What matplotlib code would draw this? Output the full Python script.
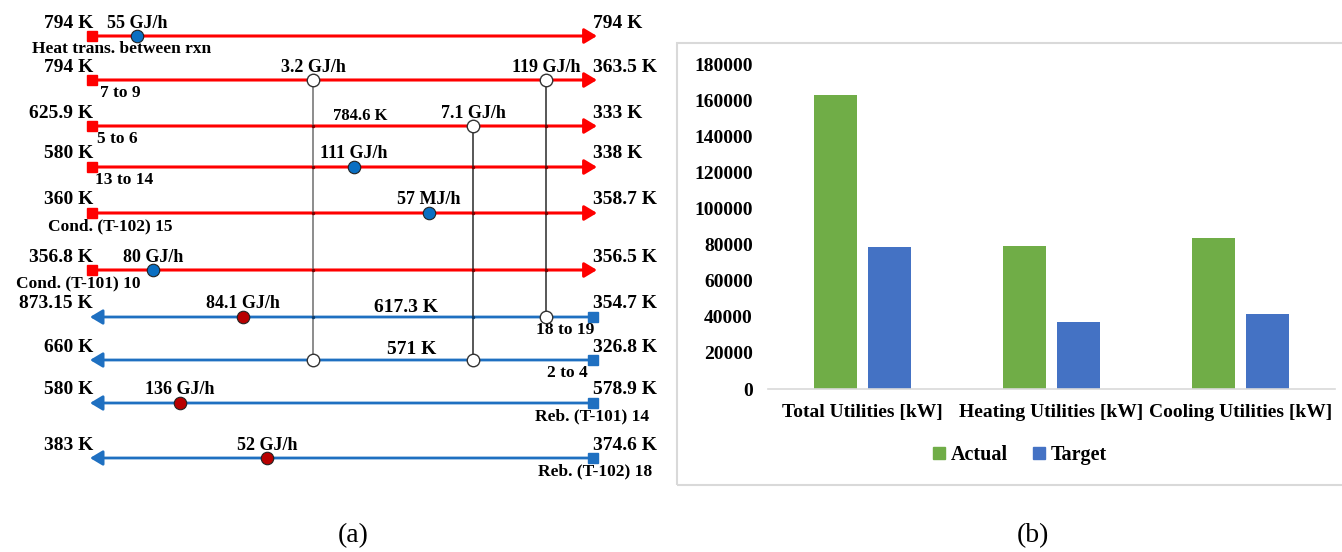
import matplotlib
matplotlib.use("Agg")
import matplotlib.pyplot as plt
from matplotlib.patches import Rectangle, Patch

plt.rcParams['font.family'] = 'Liberation Serif'
plt.rcParams['font.weight'] = 'bold'

# ---- heat exchanger network: stream data (6 hot, 4 cold)
stream_kind = ["hot"] * 6 + ["cold"] * 4
left_temps = ["794 K", "794 K", "625.9 K", "580 K", "360 K", "356.8 K",
              "873.15 K", "660 K", "580 K", "383 K"]
right_temps = ["794 K", "363.5 K", "333 K", "338 K", "358.7 K", "356.5 K",
               "354.7 K", "326.8 K", "578.9 K", "374.6 K"]
stream_names = ["Heat trans. between rxn", "7 to 9", "5 to 6", "13 to 14",
                "Cond. (T-102) 15", "Cond. (T-101) 10", "18 to 19", "2 to 4",
                "Reb. (T-101) 14", "Reb. (T-102) 18"]

# process-process exchangers (hot stream, cold stream, duty)
match_hot = [1, 2, 1]
match_cold = [7, 7, 6]
match_duty = ["3.2 GJ/h", "7.1 GJ/h", "119 GJ/h"]

# utility exchangers: coolers on hot streams, heaters on cold streams
util_stream = [0, 3, 4, 5, 6, 8, 9]
util_duty = ["55 GJ/h", "111 GJ/h", "57 MJ/h", "80 GJ/h", "84.1 GJ/h",
             "136 GJ/h", "52 GJ/h"]

# intermediate temperatures
mid_stream = [2, 6, 7]
mid_temps = ["784.6 K", "617.3 K", "571 K"]

# ---- utility comparison (kW)
categories = ["Total Utilities [kW]", "Heating Utilities [kW]", "Cooling Utilities [kW]"]
actual = [162600, 79100, 83500]
target = [78600, 37100, 41500]

# ---- layout of the grid diagram (pixel units)
row_y = [36, 80, 126, 167, 213, 270, 317, 360, 403, 458]
hot_x0, hot_x1 = 92, 597
cold_x0, cold_x1 = 90, 593
match_x = [313, 473, 546]
match_col = ['#6e6e6e', '#2a2a2a', '#2a2a2a']
util_x = [137, 354, 429, 153, 243, 180, 267]
mid_x = [360, 406, 412]
mid_size = [12, 14, 14]
name_pos = [(122, 'center'), (100, 'left'), (97, 'left'), (95, 'left'),
            (172, 'right'), (141, 'right'), (565, 'center'), (567, 'center'),
            (592, 'center'), (595, 'center')]

RED = '#FF0000'
BLUE = '#1F70C1'
COOLER = '#0A6FC2'
HEATER = '#B80000'

fig = plt.figure(figsize=(13.42, 5.52), dpi=100)

ax = fig.add_axes([0, 0, 671 / 1342, 1])
ax.set_xlim(0, 671)
ax.set_ylim(552, 0)
ax.axis('off')

for i, kind in enumerate(stream_kind):
    y = row_y[i]
    if kind == "hot":
        ax.annotate('', xy=(hot_x1, y), xytext=(hot_x0, y),
                    arrowprops=dict(arrowstyle='-|>,head_length=0.75,head_width=0.45',
                                    color=RED, lw=2.2, shrinkA=0, shrinkB=0), zorder=2)
        ax.plot(hot_x0, y, 's', ms=6.5, color=RED, zorder=3)
        tl, tr = hot_x0 + 1, hot_x1 - 4
    else:
        ax.annotate('', xy=(cold_x0, y), xytext=(cold_x1, y),
                    arrowprops=dict(arrowstyle='-|>,head_length=0.75,head_width=0.45',
                                    color=BLUE, lw=2.0, shrinkA=0, shrinkB=0), zorder=2)
        ax.plot(cold_x1, y, 's', ms=6.5, color=BLUE, zorder=3)
        tl, tr = cold_x0 + 3, cold_x1
    ax.text(tl, y - 13, left_temps[i], ha='right', va='center', fontsize=14)
    ax.text(tr, y - 13, right_temps[i], ha='left', va='center', fontsize=14)
    nx, nha = name_pos[i]
    ax.text(nx, y + 13, stream_names[i], ha=nha, va='center', fontsize=12.5)

# exchangers between hot and cold streams
for x, h, c, duty, col in zip(match_x, match_hot, match_cold, match_duty, match_col):
    ax.plot([x, x], [row_y[h], row_y[c]], color=col, lw=1.1, zorder=2.5)
    for r in range(h + 1, c):
        ax.plot(x, row_y[r], 'o', ms=2.5, mec='none',
                color='#7a0000' if stream_kind[r] == "hot" else '#0b3d6e', zorder=3)
    ax.plot([x, x], [row_y[h], row_y[c]], 'o', ms=9, mfc='white', mec='#333333',
            mew=1.0, ls='none', zorder=4)
    ax.text(x, row_y[h] - 13, duty, ha='center', va='center', fontsize=13)

# heaters and coolers
for s, x, duty in zip(util_stream, util_x, util_duty):
    fc = COOLER if stream_kind[s] == "hot" else HEATER
    ax.plot(x, row_y[s], 'o', ms=9, mfc=fc, mec='#222222', mew=0.8, zorder=4)
    ax.text(x, row_y[s] - 13, duty, ha='center', va='center', fontsize=13)

for s, x, t, fs in zip(mid_stream, mid_x, mid_temps, mid_size):
    ax.text(x, row_y[s] - 10, t, ha='center', va='center', fontsize=fs)

# ---- bar chart of utilities
fig.patches.append(Rectangle((677 / 1342, (552 - 485) / 552), (1350 - 677) / 1342,
                             (485 - 43) / 552, transform=fig.transFigure, fill=False,
                             edgecolor='#D9D9D9', lw=1.5))

bx = fig.add_axes([768 / 1342, (552 - 389) / 552, (1335 - 768) / 1342, (389 - 64) / 552])
pos = list(range(len(categories)))
bx.bar([p - 0.143 for p in pos], actual, width=0.228, color='#70AD47', label='Actual')
bx.bar([p + 0.143 for p in pos], target, width=0.228, color='#4472C4', label='Target')
bx.set_xlim(-0.5, 2.5)
bx.set_ylim(0, 180000)
bx.set_yticks(range(0, 180001, 20000))
bx.set_xticks(pos)
bx.set_xticklabels(categories)
for side in ['top', 'right', 'left']:
    bx.spines[side].set_visible(False)
bx.spines['bottom'].set_color('#D9D9D9')
bx.spines['bottom'].set_linewidth(1.2)
bx.tick_params(axis='y', length=0, pad=11, labelsize=14)
bx.tick_params(axis='x', length=0, pad=11, labelsize=14)
for lab in bx.get_xticklabels() + bx.get_yticklabels():
    lab.set_fontweight('bold')

handles = [Patch(color='#70AD47', label='Actual'), Patch(color='#4472C4', label='Target')]
fig.legend(handles=handles, loc='center', bbox_to_anchor=(1020 / 1342, 1 - 455 / 552),
           ncol=2, frameon=False, handlelength=0.6, handleheight=0.6,
           handletextpad=0.3, columnspacing=1.2, prop={'weight': 'bold', 'size': 14.5})

fig.text(353 / 1342, 1 - 536 / 552, '(a)', ha='center', va='center', fontsize=20,
         fontweight='normal')
fig.text(1033 / 1342, 1 - 536 / 552, '(b)', ha='center', va='center', fontsize=20,
         fontweight='normal')

fig.savefig('out.png', dpi=100)
